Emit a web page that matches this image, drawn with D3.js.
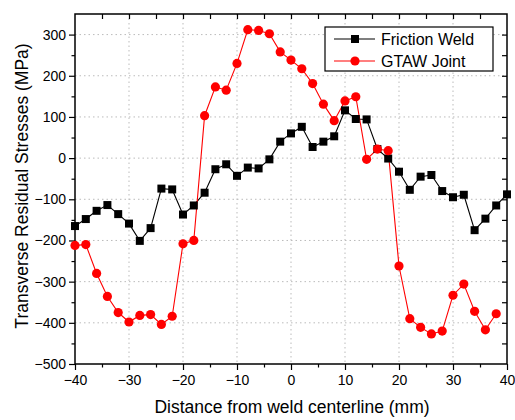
<!DOCTYPE html>
<html>
<head>
<meta charset="utf-8">
<script src="https://cdn.jsdelivr.net/npm/d3@7"></script>
<style>
  body { margin: 0; background: #fff; }
  svg { font-family: "Liberation Sans", Arial, sans-serif; }
</style>
</head>
<body>
<div id="chart"></div>
<script>
// distance from weld centerline (mm), every 2 mm
const positions = d3.range(-40, 41, 2);

const frictionWeld = [
  -165, -148, -128, -114, -136, -159, -201, -170, -74, -76,
  -137, -115, -84, -27, -15, -43, -23, -25, -3, 40,
  60, 76, 27, 40, 53, 116, 95, 94, 22, -1,
  -33, -77, -45, -41, -80, -95, -89, -175, -147, -115,
  -88
];

const gtawJoint = [
  -212, -210, -280, -336, -375, -398, -382, -380, -404, -384,
  -208, -200, 103, 173, 165, 230, 312, 310, 302, 258,
  238, 217, 181, 131, 91, 139, 149, -3, 22, 18,
  -262, -390, -411, -427, -420, -333, -306, -372, -417, -378
];

const xTicks = [-40, -30, -20, -10, 0, 10, 20, 30, 40];
const yTicks = [-500, -400, -300, -200, -100, 0, 100, 200, 300];

const width = 515, height = 420;
const m = { top: 14, right: 8, bottom: 56, left: 75 };
const innerW = width - m.left - m.right;
const innerH = height - m.top - m.bottom;

const svg = d3.select("#chart").append("svg")
  .attr("width", width).attr("height", height);
const plot = svg.append("g").attr("transform", `translate(${m.left},${m.top})`);

const x = d3.scaleLinear().domain([-40, 40]).range([0, innerW]);
const y = d3.scaleLinear().domain([-500, 350]).range([innerH, 0]);

// dotted grid
plot.append("g").selectAll("line").data(xTicks.slice(1, -1)).join("line")
  .attr("x1", d => x(d)).attr("x2", d => x(d))
  .attr("y1", 0).attr("y2", innerH)
  .attr("stroke", "#bbb").attr("stroke-dasharray", "1.5,3");
plot.append("g").selectAll("line").data(yTicks.slice(1)).join("line")
  .attr("x1", 0).attr("x2", innerW)
  .attr("y1", d => y(d)).attr("y2", d => y(d))
  .attr("stroke", "#bbb").attr("stroke-dasharray", "1.5,3");

// axes: bottom/left outward, top/right inward minor ticks
const minorX = d3.range(-35, 40, 10);
const minorY = d3.range(-450, 350, 100);

function styleAxis(g) {
  g.select(".domain").remove();
  g.selectAll(".tick line").attr("stroke", "#000").attr("stroke-width", 1.2);
  g.selectAll(".tick text").attr("font-size", 14).attr("fill", "#000");
}

plot.append("g").attr("transform", `translate(0,${innerH})`)
  .call(d3.axisBottom(x).tickValues(xTicks).tickFormat(d3.format("d")).tickSize(6).tickPadding(5))
  .call(styleAxis);
plot.append("g").attr("transform", `translate(0,${innerH})`)
  .call(d3.axisBottom(x).tickValues(minorX).tickFormat("").tickSize(3.5))
  .call(styleAxis);
plot.append("g")
  .call(d3.axisLeft(y).tickValues(yTicks).tickFormat(d3.format("d")).tickSize(6).tickPadding(3))
  .call(styleAxis);
plot.append("g")
  .call(d3.axisLeft(y).tickValues(minorY).tickFormat("").tickSize(3.5))
  .call(styleAxis);
plot.append("g")
  .call(d3.axisBottom(x).tickValues(d3.range(-35, 40, 5)).tickFormat("").tickSize(5))
  .call(styleAxis);
plot.append("g").attr("transform", `translate(${innerW},0)`)
  .call(d3.axisRight(y).tickValues(d3.range(-450, 350, 50)).tickFormat("").tickSize(-5))
  .call(styleAxis);

plot.append("rect")
  .attr("width", innerW).attr("height", innerH)
  .attr("fill", "none").attr("stroke", "#000").attr("stroke-width", 1.5);

// series
const line = d3.line().x(d => x(d[0])).y(d => y(d[1]));
const black = positions.map((p, i) => [p, frictionWeld[i]]);
const red = positions.slice(0, gtawJoint.length).map((p, i) => [p, gtawJoint[i]]);

plot.append("path").datum(black).attr("d", line)
  .attr("fill", "none").attr("stroke", "#000").attr("stroke-width", 1.1);
plot.append("path").datum(red).attr("d", line)
  .attr("fill", "none").attr("stroke", "#ff0000").attr("stroke-width", 1.1);

plot.append("g").selectAll("rect").data(black).join("rect")
  .attr("x", d => x(d[0]) - 4).attr("y", d => y(d[1]) - 4)
  .attr("width", 8).attr("height", 8).attr("fill", "#000");
plot.append("g").selectAll("circle").data(red).join("circle")
  .attr("cx", d => x(d[0])).attr("cy", d => y(d[1])).attr("r", 4.6)
  .attr("fill", "#ff0000");

// legend
const lg = svg.append("g").attr("transform", "translate(325,27)");
lg.append("rect").attr("width", 168).attr("height", 44)
  .attr("fill", "#fff").attr("stroke", "#000").attr("stroke-width", 1.2);
const items = [["Friction Weld", "#000", "sq"], ["GTAW Joint", "#ff0000", "ci"]];
items.forEach(([label, c, shape], i) => {
  const yy = 12 + i * 22;
  lg.append("line").attr("x1", 9).attr("x2", 50).attr("y1", yy).attr("y2", yy)
    .attr("stroke", c).attr("stroke-width", 1.1);
  if (shape === "sq") {
    lg.append("rect").attr("x", 26).attr("y", yy - 4).attr("width", 8).attr("height", 8).attr("fill", c);
  } else {
    lg.append("circle").attr("cx", 30).attr("cy", yy).attr("r", 4.6).attr("fill", c);
  }
  lg.append("text").attr("x", 56).attr("y", yy + 5.5).attr("font-size", 16)
    .attr("fill", "#000").text(label);
});

// axis titles
svg.append("text")
  .attr("x", 292).attr("y", 413)
  .attr("text-anchor", "middle").attr("font-size", 17.5).attr("fill", "#000")
  .text("Distance from weld centerline (mm)");
svg.append("text")
  .attr("transform", "translate(28,186) rotate(-90)")
  .attr("text-anchor", "middle").attr("font-size", 17.5).attr("fill", "#000")
  .text("Transverse Residual Stresses (MPa)");
</script>
</body>
</html>
